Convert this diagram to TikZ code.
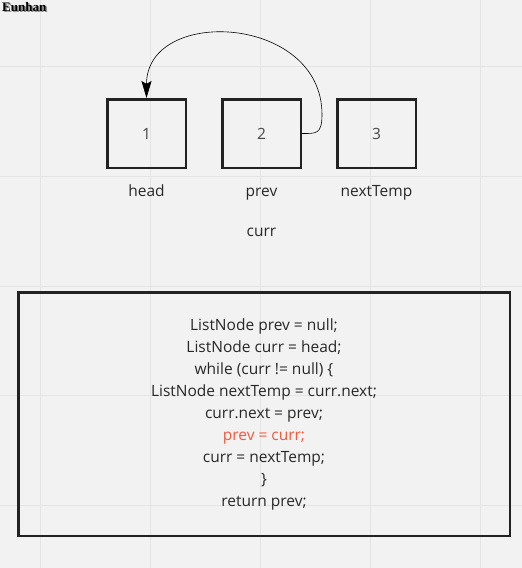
\documentclass[tikz,border=0pt]{standalone}
\usepackage{fontspec}
\setmainfont{Open Sans}
\newfontfamily\markfont{Liberation Serif}
\usetikzlibrary{positioning,arrows.meta}
\definecolor{PaperGray}{RGB}{242,242,242}
\definecolor{GridGray}{RGB}{228,228,228}
\definecolor{InkDark}{RGB}{40,40,40}
\definecolor{BoxLine}{RGB}{34,34,34}
\definecolor{HiRed}{RGB}{246,88,58}
\tikzset{
  link/.style={-{Stealth[length=17pt,width=10pt,inset=3pt]},semithick,draw=black},
  cell/.style={draw=BoxLine,line width=2.5pt,minimum width=78.5pt,minimum height=68.5pt,
    font=\fontsize{15.5}{18}\selectfont,text=InkDark!85},
  tag/.style={font=\fontsize{15.5}{18}\selectfont,text=InkDark,
    text height=1.5ex,text depth=.25ex},
  codebox/.style={draw=BoxLine,line width=2.5pt,minimum width=491.5pt,minimum height=243.5pt,
    align=center,font=\fontsize{15.5}{22}\selectfont,text=InkDark},
  signtext/.style={anchor=north west,inner sep=0pt,
    font=\markfont\bfseries\fontsize{13}{13}\selectfont}
}

\begin{document}
\begin{tikzpicture}[x=1pt,y=1pt]
  \useasboundingbox (0,0) rectangle (522,-568);
  \fill[PaperGray] (0,0) rectangle (522,-568);
  % grid
  \foreach \g in {40.5,150.5,260.5,370.5,480.5}
    \draw[GridGray,line width=1pt] (\g,0) -- (\g,-568);
  \foreach \g in {66.5,176.5,286.5,395.5,505.5}
    \draw[GridGray,line width=1pt] (0,-\g) -- (522,-\g);
  % watermark
  \node[signtext,text=black!45] (signshade) at (3.5,-3.5) {Eunhan};
  \node[signtext,text=black] (sign) at (2,-2) {Eunhan};
  % list nodes
  \node[cell] (one) at (146.5,-133.5) {1};
  \node[cell,right=34pt of one] (two) {2};
  \node[cell,right=34pt of two] (three) {3};
  \node[tag,below=16pt of one] (headlbl) {head};
  \node[tag,below=16pt of two] (prevlbl) {prev};
  \node[tag,below=16pt of three] (templbl) {nextTemp};
  \node[tag,below=24pt of prevlbl] (currlbl) {curr};
  \draw[link] (two.east) .. controls +(14,0) and +(0,-20) .. ++(20,19)
    .. controls +(0,100) and +(0,92) .. (one.north);
  % code
  \node[codebox] (code) at (264,-414) {ListNode prev = null;\\
    ListNode curr = head;\\
    while (curr != null) \{\\
    ListNode nextTemp = curr.next;\\
    curr.next = prev;\\
    {\color{HiRed}prev = curr;}\\
    curr = nextTemp;\\
    \}\\
    return prev;};
\end{tikzpicture}
\end{document}
